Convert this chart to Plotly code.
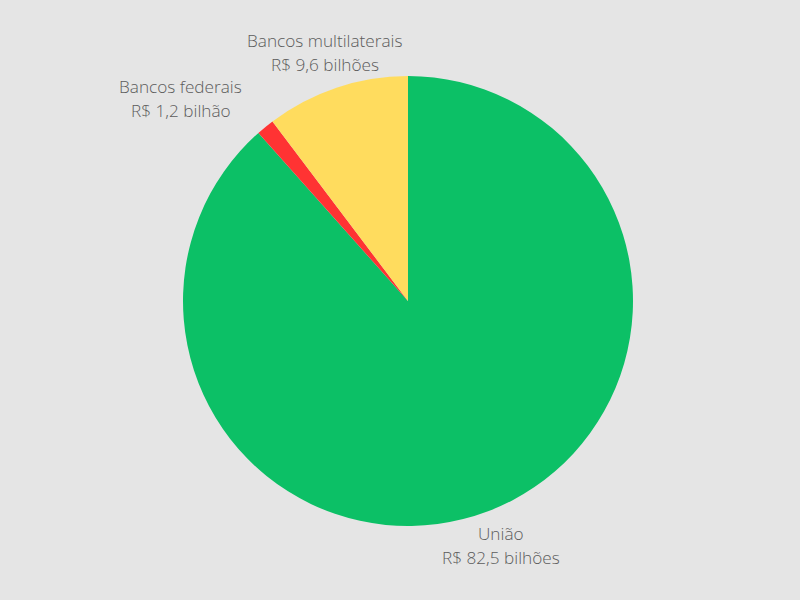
import math
import plotly.graph_objects as go

labels = ["União", "Bancos federais", "Bancos multilaterais"]
valores = [82.5, 1.2, 9.6]
linha1 = ["União", "Bancos federais", "Bancos multilaterais"]
linha2 = ["R$ 82,5 bilhões", "R$ 1,2 bilhão", "R$ 9,6 bilhões"]
cores = ["#0cc066", "#ff3333", "#ffdc5e"]

W, H = 800, 600
cx, cy, raio = 408, 301, 225  # centro e raio da pizza em px

fig = go.Figure(go.Pie(
    labels=labels,
    values=valores,
    textinfo="none",
    sort=False,
    direction="clockwise",
    rotation=0,
    marker=dict(colors=cores, line=dict(width=0)),
    showlegend=False,
    hoverinfo="label+value",
    domain=dict(x=[(cx - raio) / W, (cx + raio) / W],
                y=[1 - (cy + raio) / H, 1 - (cy - raio) / H]),
))

# rótulos externos no ângulo médio de cada fatia (federais deslocado p/ não sobrepor)
total = sum(valores)
acum = 0
desloc_x = [0, -61, 0]
fonte = dict(family="Open Sans", size=17.2, color="#5c5c5c", weight=300)
for v, l1, l2, dx in zip(valores, linha1, linha2, desloc_x):
    meio = (acum + v / 2) / total * 2 * math.pi
    acum += v
    px = cx + 262 * math.sin(meio)
    py = cy - 262 * math.cos(meio)
    for texto, dy in ((l1, 12), (l2, -12)):
        fig.add_annotation(
            x=px / W, y=1 - py / H, xref="paper", yref="paper",
            text=texto, showarrow=False, xanchor="center", yanchor="middle",
            xshift=dx, yshift=dy, font=fonte,
        )

fig.update_layout(
    width=W, height=H,
    paper_bgcolor="#e5e5e5",
    plot_bgcolor="#e5e5e5",
    margin=dict(l=0, r=0, t=0, b=0),
)

fig.write_html("out.html", config={"displayModeBar": False},
               post_script="document.body.style.margin='0';")
